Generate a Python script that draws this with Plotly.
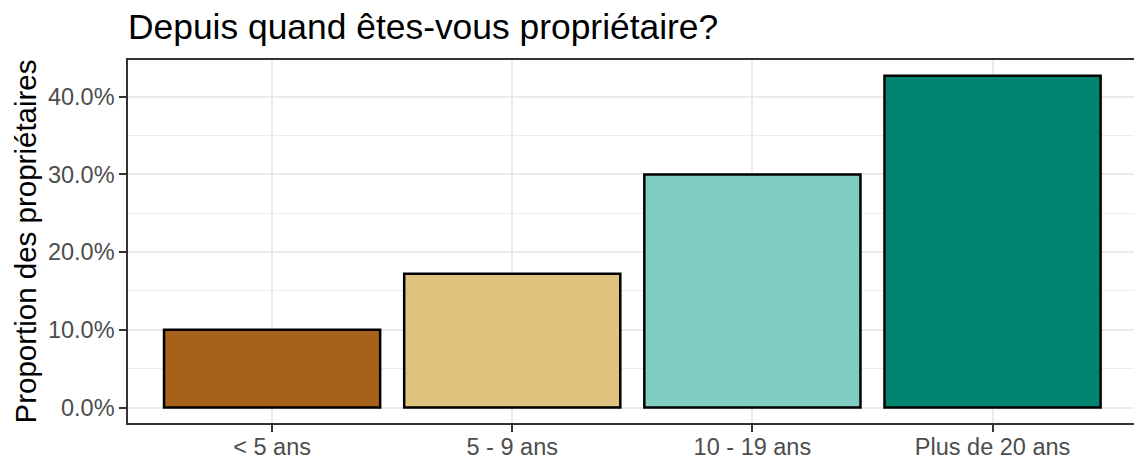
import plotly.graph_objects as go

# values
categories = ["< 5 ans", "5 - 9 ans", "10 - 19 ans", "Plus de 20 ans"]
shares = [0.100, 0.172, 0.300, 0.427]
bar_colors = ["#A6611A", "#DFC27D", "#80CDC1", "#018571"]

font_family = "Liberation Sans, Arial, sans-serif"
grid = "#EBEBEB"
border = "#333333"

fig = go.Figure()
fig.add_trace(go.Bar(
    x=list(range(len(categories))),
    y=shares,
    width=0.9,
    marker=dict(color=bar_colors, line=dict(color="black", width=2.5)),
    showlegend=False,
))

fig.update_layout(
    width=1134, height=459,
    margin=dict(l=128, r=0, t=60, b=36),
    paper_bgcolor="white", plot_bgcolor="white",
    font=dict(family=font_family, color="#4D4D4D"),
    title=dict(text="Depuis quand êtes-vous propriétaire?",
               x=128 / 1134, xanchor="left", xref="container",
               y=1 - 27 / 459, yanchor="middle", yref="container",
               font=dict(size=35.4, color="black", family=font_family)),
)

fig.update_xaxes(
    range=[-0.6, 3.589],
    tickmode="array", tickvals=list(range(len(categories))), ticktext=categories,
    tickfont=dict(size=23.5, color="#4D4D4D"),
    ticks="outside", ticklen=7, tickwidth=1.5, tickcolor=border,
    ticklabelstandoff=-5,
    showgrid=True, gridcolor=grid, gridwidth=1.5,
    showline=True, linecolor=border, linewidth=1.5, mirror=True,
    zeroline=False, automargin=False,
)

fig.update_yaxes(
    range=[-0.01995, 0.4472],
    tick0=0, dtick=0.1, tickformat=".1%",
    tickfont=dict(size=23.5, color="#4D4D4D"),
    ticks="outside", ticklen=7, tickwidth=1.5, tickcolor=border,
    showgrid=True, gridcolor=grid, gridwidth=1.5,
    minor=dict(dtick=0.05, tick0=0, showgrid=True, gridcolor=grid, gridwidth=0.8, ticks=""),
    showline=True, linecolor=border, linewidth=1.5, mirror=False,
    zeroline=False, automargin=False,
    title=dict(text="Proportion des propriétaires", standoff=3,
               font=dict(size=29.5, color="black", family=font_family)),
)

# drop the default 8px page margin so the figure sits at the window's corner
fig.write_html("out.html", config={"displayModeBar": False},
               post_script="document.body.style.margin='0';")
